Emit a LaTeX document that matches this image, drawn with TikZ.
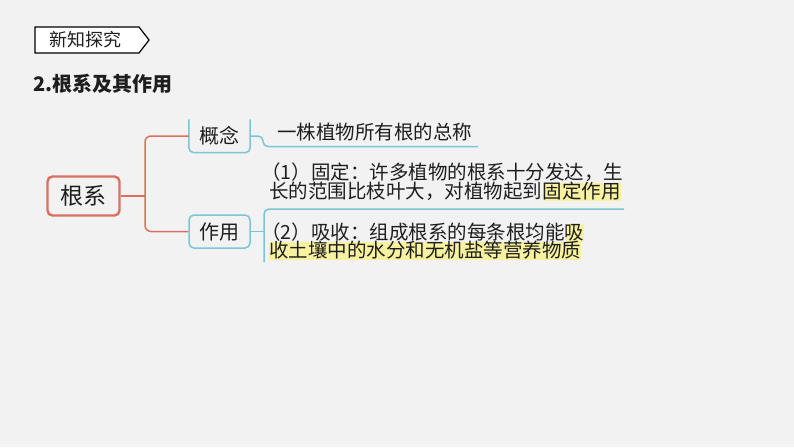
\documentclass[tikz,border=0pt]{standalone}
\usepackage{fontspec}
\newfontfamily\cjk{Noto Sans CJK SC}
\usetikzlibrary{positioning}
\definecolor{slidebg}{RGB}{242,242,242}
\definecolor{rootred}{RGB}{220,112,96}
\definecolor{branchblue}{RGB}{120,198,214}
\definecolor{markyellow}{RGB}{248,242,160}
\definecolor{ink}{RGB}{30,30,30}
\tikzset{
every node/.style={font=\cjk, text=ink, inner sep=0pt},
body/.style={font=\cjk\fontsize{19.5}{19.5}\selectfont, anchor=west, text height=15pt, text depth=3pt},
hilite/.style={body, fill=markyellow},
rootbox/.style={draw=rootred, line width=2.4pt, rounded corners=5pt, fill=slidebg, minimum width=72pt, minimum height=39pt, font=\cjk\fontsize{23}{23}\selectfont},
leafbox/.style={minimum width=61pt, minimum height=33pt, font=\cjk\fontsize{20}{20}\selectfont},
rootline/.style={draw=rootred, line width=1.5pt, rounded corners=6pt},
branch/.style={draw=branchblue, line width=1.5pt, rounded corners=5pt},
}

\begin{document}
\begin{tikzpicture}[x=1pt,y=-1pt]
        \useasboundingbox[fill=slidebg] (0,0) rectangle (794,447);

        \draw[fill=white, line width=1.2pt] (35,27) -- (139,27) -- (149,40) -- (139,53) -- (35,53) -- cycle;
        \node[font=\cjk\fontsize{18}{18}\selectfont] (tag) at (85,40) {新知探究};
        \node[anchor=west, font=\cjk\bfseries\fontsize{20}{20}\selectfont] (title) at (33,84) {2.根系及其作用};

        \node[rootbox] (root) at (83.5,196) {根系};
        \node[leafbox] (concept) at (219.5,136) {概念};
        \node[leafbox, draw=branchblue, line width=1.5pt, rounded corners=5pt] (role) at (219.5,231.5) {作用};
        \draw[branch] (concept.north west) -- (concept.south west) -- (concept.south east) -- (concept.north east);

        \coordinate (hub) at (145,196);
        \draw[rootline] (root.east) -- (hub);
        \draw[rootline] (concept.west) -| (hub) |- (role.west);

        \node[body] (def) at (277,133) {一株植物所有根的总称};
        \coordinate (defknee) at (263,146.5);
        \coordinate (defend) at (478,146.5);
        \draw[branch] (concept.east) -| (defknee) -- (defend);

        \node[body] (fna) at (261,173) {（1）固定：许多植物的根系十分发达，生};
        \node[body] (fnb) at (269,192) {长的范围比枝叶大，对植物起到};
        \node[hilite, right=0pt of fnb] (fnbmark) {固定作用};

        \coordinate (absbot) at (264,262);
        \coordinate (absend) at (624,209);
        \draw[branch] (absbot) |- (absend);
        \draw[branch] (role.east) -- (role.east -| absbot);
        \node[body] (abs) at (261,233) {（2）吸收：组成根系的每条根均能};
        \node[hilite, right=0pt of abs] (absmark) {吸};
        \node[hilite] (absb) at (269,251) {收土壤中的水分和无机盐等营养物质};

    \end{tikzpicture}
\end{document}
